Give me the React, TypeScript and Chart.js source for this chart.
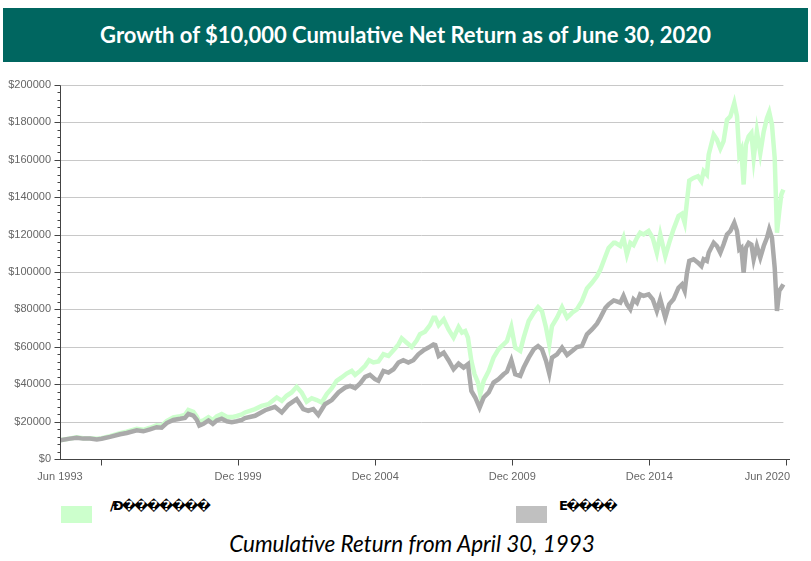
import React, { useEffect, useRef } from "react";
import { Chart, registerables } from "chart.js";

Chart.register(...registerables);

const TITLE = "Growth of $10,000 Cumulative Net Return as of June 30, 2020";
const SUBTITLE = "Cumulative Return from April 30, 1993";
const LEGEND_LABELS = ["/\u00D0\uFFFD\uFFFD\uFFFD\uFFFD\uFFFD\uFFFD\uFFFD", "E\uFFFD\uFFFD\uFFFD\uFFFD"];
const SERIES_COLORS = ["#ccffcc", "#aaaaaa"];
const LEGEND_BOX_COLORS = ["#ccffcc", "#c0c0c0"];

// x axis measured in months since Jun 1993
const X_MAX = 319.6;
const X_TICK_MONTHS = [0, 18, 78, 138, 198, 258, 318];
const X_TICK_LABELS = ["Jun 1993", "", "Dec 1999", "Dec 2004", "Dec 2009", "Dec 2014", "Jun 2020"];

const Y_MAX = 200000;
const Y_MAJOR = 20000;
const Y_MINOR = 4000;

const fundMonths = [
  0, 4.4, 7.3, 10.2, 13.1, 16.1, 18.2, 21.9, 26.3, 29.2, 33.6, 36.5, 39.4, 42.3, 44.5, 46.7, 49.6, 52.6, 54.7, 56.2,
  58.4, 59.9, 61.0, 62.8, 65.0, 66.9, 68.6, 70.8, 73.0, 75.2, 77.4, 79.6,
  81.0, 85.4, 88.3, 91.2, 94.9, 97.1, 99.2, 101.4, 103.6, 105.8, 108.0, 110.2, 112.4, 114.6, 116.8, 119.0, 121.1,
  123.3, 125.5, 127.7, 129.2, 131.4, 133.6, 135.3, 137.2, 139.4, 141.6, 143.8, 146.0, 148.2, 149.6, 151.8, 154.0,
  156.2, 157.6, 159.8, 162.0, 163.5,
  164.3, 165.8, 168.0, 170.1, 172.3, 174.5, 176.0, 177.4, 178.6, 180.1, 181.5, 183.0, 184.0, 185.5, 187.7, 189.8,
  192.0, 194.2, 195.7, 197.6, 199.3, 201.5, 203.0, 205.2, 207.4, 209.3, 211.0, 212.8, 214.2, 215.4, 217.6, 219.8,
  222.0, 224.2, 226.3, 228.5, 230.7, 232.9, 235.1, 236.6, 238.8, 240.2, 242.4,
  243.1, 245.3, 246.7, 248.2, 249.7, 251.1, 252.6, 254.0, 255.5, 257.7, 259.5, 261.3, 262.8, 265.0, 266.7, 268.6,
  270.8, 272.3, 273.5, 274.5, 275.5, 277.4, 279.3, 280.8, 281.8, 283.2, 284.0, 286.2, 287.6, 289.1, 290.5, 292.0,
  293.5, 295.2, 296.4, 297.4, 298.3, 299.3, 300.3, 301.5, 302.7, 303.7, 305.1, 306.6, 308.1, 309.5, 310.5, 311.7,
  312.9, 313.9, 314.9, 315.8, 316.7,
];
const fundValues = [
  10000, 11000, 11600, 11100, 11100, 10800, 11100, 12200, 13800, 14600, 16100, 15600, 16700, 18000, 17800, 20300,
  22200, 22900, 23600, 26200, 25200, 22600, 19800, 20600, 22400, 20800, 22800, 24000, 22600, 22400, 23000, 23800,
  24900, 26700, 28400, 29300, 32900, 31100, 33800, 35600, 38600, 35600, 30600, 32500, 31500, 30200, 34700, 37900,
  41800, 43600, 45700, 47100, 45000, 47100, 49800, 52800, 51600, 52100, 56000, 55100, 58100, 61300, 64500, 62200,
  59900, 63500, 66700, 68100, 71600, 75600,
  75600, 71600, 74700, 69300, 64900, 70600, 67600, 68400, 64900, 52400, 45300, 40900, 34700, 41800, 47100, 54200,
  58700, 61300, 63100, 70600, 59600, 57800, 64900, 73800, 78200, 81200, 79100, 70200, 61300, 71100, 75600, 81200,
  75600, 78200, 80000, 84400, 91200, 94200, 97800, 101300, 108400, 112900, 115600,
  115600, 113900, 118300, 109400, 115600, 114400, 118300, 121000, 120100, 121900, 118300, 110300, 120100, 108500,
  115600, 122800, 129900, 131100, 126300, 137900, 148900, 150300, 151200, 148500, 153900, 152100, 162800, 173400,
  170800, 166000, 169900, 181400, 183200, 190300, 183200, 162800, 165400, 146800, 168100, 172500, 174300, 161000,
  175200, 163600, 175200, 182300, 185500, 178800, 161000, 121000, 132500, 141400, 144100,
];

const indexMonths = [
  0, 4.4, 7.3, 10.2, 13.1, 16.1, 18.2, 21.9, 26.3, 29.2, 33.6, 36.5, 39.4, 42.3, 44.5, 46.7, 49.6, 52.6, 54.7, 56.2,
  58.4, 59.9, 61.0, 62.8, 65.0, 66.9, 68.6, 70.8, 73.0, 75.2, 77.4, 79.6,
  81.0, 85.4, 89.8, 94.1, 97.1, 100.0, 103.6, 106.5, 108.7, 110.9, 113.1, 116.0, 119.0, 121.9, 124.8, 127.0, 129.2,
  131.4, 133.6, 135.7, 137.9, 139.4, 141.6, 143.8, 146.0, 148.2, 150.3, 152.5, 154.7, 156.9, 159.1, 161.3, 163.5,
  164.3, 165.8, 168.0, 170.1, 172.3, 174.5, 176.7, 178.6, 180.1, 181.8, 183.7, 185.5, 187.7, 189.8, 192.0, 194.2,
  195.7, 197.6, 199.3, 201.5, 203.0, 205.2, 207.4, 209.3, 211.0, 212.8, 214.2, 215.4, 217.6, 219.8, 222.0, 224.2,
  226.3, 228.5, 230.7, 232.9, 235.1, 236.6, 238.8, 240.2, 242.4,
  243.1, 245.3, 246.7, 248.2, 249.7, 251.1, 252.6, 254.0, 255.5, 257.7, 259.5, 261.3, 262.8, 265.0, 266.7, 268.6,
  270.8, 272.3, 273.5, 274.5, 275.5, 277.4, 279.3, 280.8, 281.8, 283.2, 284.0, 286.2, 287.6, 289.1, 290.5, 292.0,
  293.5, 295.2, 296.4, 297.4, 298.3, 299.3, 300.3, 301.5, 302.7, 303.7, 305.1, 306.6, 308.1, 309.5, 310.5, 311.7,
  312.9, 313.9, 314.9, 315.8, 316.7,
];
const indexValues = [
  10000, 10900, 11400, 10900, 10900, 10500, 10800, 11800, 13200, 13900, 15300, 14800, 15800, 17000, 16700, 19200,
  20900, 21500, 22000, 24100, 23200, 20900, 17900, 18800, 20600, 18800, 20600, 21500, 20200, 19700, 20200, 20900,
  21900, 23100, 26100, 27900, 24900, 29000, 32000, 26700, 25800, 26700, 23600, 29300, 31500, 35600, 38200, 39100,
  37900, 40400, 43900, 45000, 42700, 41800, 47100, 46200, 48000, 51600, 52800, 51600, 52800, 56000, 58100, 59600,
  61300,
  61000, 55100, 56900, 52800, 48000, 51000, 48900, 50700, 36400, 32900, 27500, 32900, 35600, 40900, 42700, 45300,
  46700, 52800, 45300, 44400, 48900, 54200, 58700, 60400, 58700, 52400, 45700, 54200, 56000, 59600, 55600, 57800,
  59900, 60400, 66700, 69300, 72400, 75600, 80900, 82700, 84800,
  84500, 83600, 87200, 82700, 80100, 85400, 83600, 88100, 87200, 88100, 85400, 79200, 85400, 75600, 82700, 85400,
  91600, 93400, 89900, 99600, 105900, 106800, 105000, 103200, 106800, 105900, 110300, 115600, 113900, 110300,
  114700, 120100, 121900, 126300, 121900, 112100, 113000, 99600, 113000, 115600, 114700, 106800, 113900, 107700,
  113900, 118300, 122800, 118300, 102300, 79200, 89900, 91600, 93400,
];

const toPoints = (xs: number[], ys: number[]) => xs.map((x, i) => ({ x, y: ys[i] }));

const TICK_FONT_FAMILY = "'Liberation Sans', Arial, sans-serif";
const TICK_COLOR = "#666";

export default function App() {
  const canvasRef = useRef<HTMLCanvasElement>(null);

  useEffect(() => {
    const canvas = canvasRef.current;
    if (!canvas) return;
    const gridEnd = Math.max(...fundMonths, ...indexMonths);

    const axesPlugin = {
      id: "customAxes",
      beforeDatasetsDraw(chart: any) {
        const { ctx, chartArea, scales } = chart;
        const x = scales.x;
        const y = scales.y;
        ctx.save();
        ctx.strokeStyle = "#c8c8c8";
        ctx.lineWidth = 1;
        const xEnd = x.getPixelForValue(gridEnd);
        for (let v = Y_MAJOR; v <= Y_MAX; v += Y_MAJOR) {
          const py = Math.round(y.getPixelForValue(v)) + 0.5;
          ctx.beginPath();
          ctx.moveTo(chartArea.left, py);
          ctx.lineTo(xEnd, py);
          ctx.stroke();
        }
        ctx.restore();
      },
      afterDraw(chart: any) {
        const { ctx, chartArea, scales } = chart;
        const x = scales.x;
        const y = scales.y;
        ctx.save();
        ctx.strokeStyle = "#444";
        ctx.lineWidth = 1;
        const left = Math.round(chartArea.left) + 0.5;
        const top = Math.round(y.getPixelForValue(Y_MAX)) + 0.5;
        const bottom = Math.round(y.getPixelForValue(0)) + 0.5;
        ctx.beginPath();
        ctx.moveTo(left, top);
        ctx.lineTo(left, bottom);
        ctx.moveTo(chartArea.left, bottom);
        ctx.lineTo(chartArea.right, bottom);
        for (let v = 0; v <= Y_MAX; v += Y_MINOR) {
          const py = Math.round(y.getPixelForValue(v)) + 0.5;
          const len = v % Y_MAJOR === 0 ? 6 : 3;
          ctx.moveTo(left - len, py);
          ctx.lineTo(left, py);
        }
        X_TICK_MONTHS.forEach((m) => {
          if (m === 0) return;
          const px = Math.round(x.getPixelForValue(m)) + 0.5;
          ctx.moveTo(px, bottom);
          ctx.lineTo(px, bottom + 6);
        });
        ctx.stroke();

        // x tick labels (last one right-aligned to the axis end)
        ctx.fillStyle = TICK_COLOR;
        ctx.font = `11px ${TICK_FONT_FAMILY}`;
        ctx.textBaseline = "middle";
        X_TICK_MONTHS.forEach((m, i) => {
          const label = X_TICK_LABELS[i];
          if (!label) return;
          const isLast = i === X_TICK_MONTHS.length - 1;
          ctx.textAlign = isLast ? "right" : "center";
          const px = isLast ? chartArea.right : x.getPixelForValue(m);
          ctx.fillText(label, px, bottom + 17);
        });
        ctx.restore();
      },
    };

    const chart = new Chart(canvas, {
      type: "line",
      data: {
        datasets: [
          {
            label: LEGEND_LABELS[0],
            data: toPoints(fundMonths, fundValues),
            borderColor: SERIES_COLORS[0],
            backgroundColor: SERIES_COLORS[0],
            borderWidth: 4.5,
            pointRadius: 0,
            tension: 0,
            order: 2,
          },
          {
            label: LEGEND_LABELS[1],
            data: toPoints(indexMonths, indexValues),
            borderColor: SERIES_COLORS[1],
            backgroundColor: SERIES_COLORS[1],
            borderWidth: 4.5,
            pointRadius: 0,
            tension: 0,
            order: 1,
          },
        ],
      },
      options: {
        animation: false,
        responsive: false,
        devicePixelRatio: 1,
        layout: { padding: { left: 0, right: 21, top: 10, bottom: 0 } },
        plugins: { legend: { display: false }, tooltip: { enabled: false } },
        scales: {
          x: {
            type: "linear",
            min: 0,
            max: X_MAX,
            grid: { display: false, drawTicks: false },
            border: { display: false },
            afterFit: (scale: any) => {
              scale.height = 31;
              scale.paddingLeft = 0;
              scale.paddingRight = 0;
            },
            ticks: { display: false },
          },
          y: {
            type: "linear",
            min: 0,
            max: Y_MAX,
            grid: { display: false, drawTicks: false },
            border: { display: false },
            afterFit: (scale: any) => {
              scale.width = 60;
              scale.paddingTop = 0;
              scale.paddingBottom = 0;
            },
            ticks: {
              stepSize: Y_MAJOR,
              padding: 9,
              color: TICK_COLOR,
              font: { family: TICK_FONT_FAMILY, size: 11 },
              callback: (value: any) => "$" + value,
            },
          },
        },
      },
      plugins: [axesPlugin],
    });

    return () => chart.destroy();
  }, []);

  const legendText: React.CSSProperties = {
    position: "absolute",
    top: 497,
    fontFamily: "'DejaVu Sans', sans-serif",
    fontWeight: 700,
    fontSize: 13,
    letterSpacing: "-2px",
    lineHeight: "18px",
    color: "#000",
    whiteSpace: "nowrap",
  };

  return (
    <div style={{ position: "absolute", left: 0, top: 0, width: 811, height: 561, background: "#fff", overflow: "hidden" }}>
      <div
        style={{
          position: "absolute",
          left: 3,
          top: 8,
          width: 805,
          height: 54,
          background: "#006660",
          color: "#fff",
          fontFamily: "Lato, 'Open Sans', sans-serif",
          fontWeight: 700,
          fontSize: 22,
          lineHeight: "54px",
          textAlign: "center",
        }}
      >
        {TITLE}
      </div>
      <canvas
        ref={canvasRef}
        width={811}
        height={415}
        style={{ position: "absolute", left: 0, top: 75, width: 811, height: 415 }}
      />
      <div style={{ position: "absolute", left: 61, top: 506, width: 31, height: 17, background: LEGEND_BOX_COLORS[0] }} />
      <div style={{ ...legendText, left: 110 }}>{LEGEND_LABELS[0]}</div>
      <div style={{ position: "absolute", left: 516, top: 506, width: 31, height: 17, background: LEGEND_BOX_COLORS[1] }} />
      <div style={{ ...legendText, left: 559 }}>{LEGEND_LABELS[1]}</div>
      <div
        style={{
          position: "absolute",
          left: 0,
          width: 824,
          top: 530,
          textAlign: "center",
          fontFamily: "Lato, 'Open Sans', sans-serif",
          fontStyle: "italic",
          fontSize: 22.5,
          lineHeight: "28px",
          color: "#000",
        }}
      >
        {SUBTITLE}
      </div>
    </div>
  );
}
